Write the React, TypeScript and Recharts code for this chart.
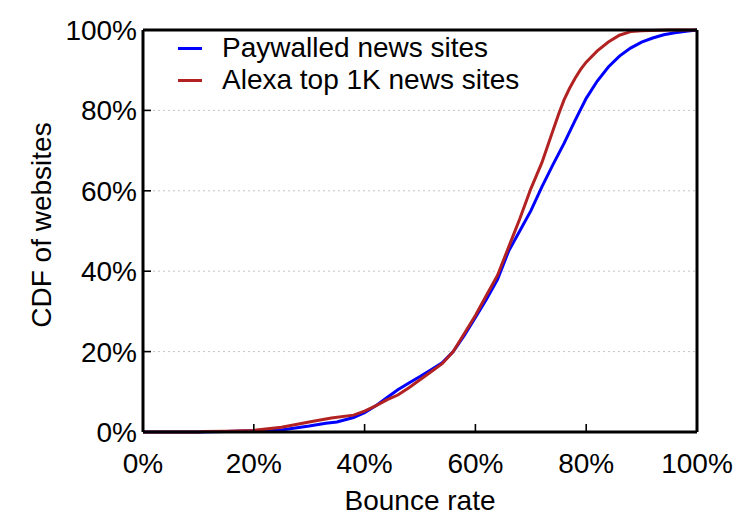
import { CartesianGrid, Legend, Line, LineChart, XAxis, YAxis } from "recharts";

// bounce rate (%) and cumulative share of sites (%)
const paywalledX = [0, 10, 15, 20, 25, 30, 33, 35, 38, 40, 42, 44, 46, 48, 50, 52, 54, 56, 58, 60, 62, 64, 66, 68, 70, 72, 74, 76, 78, 80, 82, 84, 86, 88, 90, 92, 94, 96, 98, 100];
const paywalledY = [0, 0, 0.1, 0.3, 0.5, 1.5, 2.2, 2.5, 3.6, 4.8, 6.5, 8.5, 10.5, 12.2, 13.8, 15.5, 17.2, 20, 24, 28.5, 33, 38, 45, 50, 55, 61, 66.5, 71.8, 77.5, 83, 87.3, 90.8, 93.5, 95.5, 97, 98, 98.8, 99.3, 99.7, 100];

const alexaX = [0, 10, 11, 15, 20, 25, 30, 34, 38, 40, 42, 44, 46, 48, 50, 52, 54, 56, 58, 60, 62, 64, 66, 68, 70, 72, 74, 75, 76, 77, 78, 79, 80, 82, 84, 86, 88, 90, 95, 100];
const alexaY = [0, 0, 0.1, 0.2, 0.4, 1.2, 2.5, 3.5, 4.2, 5.2, 6.5, 8, 9.2, 11, 13, 15, 17, 20, 24.5, 29, 34, 39, 46, 53, 60.5, 67, 75, 79, 82.6, 85.5, 88, 90.2, 92, 94.8, 97, 98.7, 99.6, 99.8, 100, 100];

const ticks = [0, 20, 40, 60, 80, 100];

const series = [
  { name: "Paywalled news sites", color: "#0000ff", xs: paywalledX, ys: paywalledY },
  { name: "Alexa top 1K news sites", color: "#b22222", xs: alexaX, ys: alexaY },
];

const toPoints = (xs: number[], ys: number[]) => xs.map((x, i) => ({ x, y: ys[i] }));

const font = "'Liberation Sans', Arial, Helvetica, sans-serif";
const axisLine = { stroke: "#000", strokeWidth: 3 };
const TICK_LEN = 8;
const TICK_W = 1.6;
const BOTTOM_GAP = 21;
const LEFT_GAP = 6;

type Side = "bottom" | "top" | "left" | "right";

// inward tick mark plus (on bottom/left) the percent label
function makeTick(side: Side) {
  return (props: any) => {
    const { x, y, payload } = props;
    const v = payload?.value;
    if (side === "bottom") {
      const ay = y - BOTTOM_GAP;
      return (
        <g>
          <line x1={x} x2={x} y1={ay} y2={ay - TICK_LEN} stroke="#000" strokeWidth={TICK_W} />
          <text x={x} y={y} dy="0.71em" textAnchor="middle" fontSize={28} fontFamily={font} fill="#000">
            {`${v}%`}
          </text>
        </g>
      );
    }
    if (side === "left") {
      const ax = x + LEFT_GAP;
      return (
        <g>
          <line x1={ax} x2={ax + TICK_LEN} y1={y} y2={y} stroke="#000" strokeWidth={TICK_W} />
          <text x={x} y={y} dy="0.355em" textAnchor="end" fontSize={28} fontFamily={font} fill="#000">
            {`${v}%`}
          </text>
        </g>
      );
    }
    if (side === "top") {
      return (
        <g>
          <line x1={x} x2={x} y1={y} y2={y + TICK_LEN} stroke="#000" strokeWidth={TICK_W} />
        </g>
      );
    }
    return (
      <g>
        <line x1={x} x2={x - TICK_LEN} y1={y} y2={y} stroke="#000" strokeWidth={TICK_W} />
      </g>
    );
  };
}

function LegendBox() {
  return (
    <div style={{ fontSize: 28, lineHeight: "32px", color: "#000", fontFamily: font }}>
      {series.map((s) => (
        <div key={s.name} style={{ display: "flex", alignItems: "center", whiteSpace: "nowrap" }}>
          <span style={{ display: "inline-block", width: 24, height: 3, background: s.color, marginRight: 20 }} />
          {s.name}
        </div>
      ))}
    </div>
  );
}

export default function App() {
  return (
    <div style={{ position: "absolute", left: 0, top: 0, background: "#fff", fontFamily: font }}>
      <LineChart width={750} height={525} margin={{ top: 29, right: 52, bottom: 0, left: 0 }}>
        <CartesianGrid vertical={false} stroke="#c4c4c4" strokeDasharray="2 3" />
        <XAxis
          type="number"
          dataKey="x"
          domain={[0, 100]}
          ticks={ticks}
          height={93}
          axisLine={axisLine}
          tickLine={false}
          tickSize={0}
          tickMargin={BOTTOM_GAP}
          tick={makeTick("bottom")}
          label={{
            content: () => (
              <text x={420} y={510} textAnchor="middle" fontSize={28} fontFamily={font} fill="#000">
                Bounce rate
              </text>
            ),
          }}
        />
        {/* top and right axes only close the frame and carry inward ticks */}
        <XAxis
          xAxisId="top"
          orientation="top"
          type="number"
          domain={[0, 100]}
          ticks={ticks}
          height={1}
          axisLine={axisLine}
          tickLine={false}
          tickSize={0}
          tickMargin={0}
          tick={makeTick("top")}
        />
        <YAxis
          type="number"
          domain={[0, 100]}
          ticks={ticks}
          width={143}
          axisLine={axisLine}
          tickLine={false}
          tickSize={0}
          tickMargin={LEFT_GAP}
          tick={makeTick("left")}
          label={{
            content: () => (
              <text
                x={51}
                y={225}
                transform="rotate(-90 51 225)"
                textAnchor="middle"
                fontSize={28}
                fontFamily={font}
                fill="#000"
              >
                CDF of websites
              </text>
            ),
          }}
        />
        <YAxis
          yAxisId="right"
          orientation="right"
          type="number"
          domain={[0, 100]}
          ticks={ticks}
          width={1}
          axisLine={axisLine}
          tickLine={false}
          tickSize={0}
          tickMargin={0}
          tick={makeTick("right")}
        />
        <Legend
          layout="vertical"
          align="center"
          verticalAlign="middle"
          content={<LegendBox />}
          wrapperStyle={{ left: 178, top: 32, width: "auto" }}
        />
        {series.map((s) => (
          <Line
            key={s.name}
            name={s.name}
            data={toPoints(s.xs, s.ys)}
            dataKey="y"
            type="linear"
            stroke={s.color}
            strokeWidth={3}
            dot={false}
            isAnimationActive={false}
          />
        ))}
      </LineChart>
    </div>
  );
}
